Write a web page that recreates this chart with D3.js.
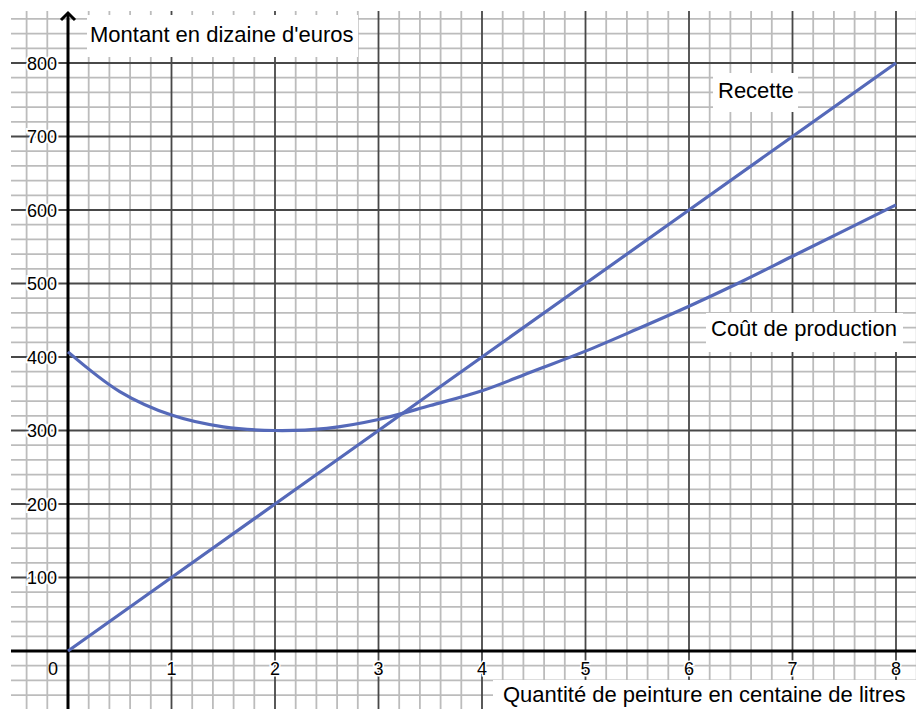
<!DOCTYPE html>
<html>
<head>
<meta charset="utf-8">
<script src="https://cdn.jsdelivr.net/npm/d3@7"></script>
<style>
  html, body { margin: 0; padding: 0; background: #fff; }
  svg { display: block; font-family: "Liberation Sans", Arial, sans-serif; }
</style>
</head>
<body>
<svg id="chart" width="916" height="709"></svg>
<script>
// ---- Data ----
const quantites = [0, 1, 2, 3, 4, 5, 6, 7, 8];
const recette = [0, 100, 200, 300, 400, 500, 600, 700, 800];
const coutX = [0, 0.5, 1, 1.5, 2, 2.5, 3, 3.5, 4, 4.5, 5, 5.5, 6, 6.5, 7, 7.5, 8];
const coutY = [407, 353, 321, 305, 300, 303, 315, 334, 354, 381, 408, 438, 469, 502, 537, 572, 607];
const xTickLabels = ["1", "2", "3", "4", "5", "6", "7", "8"];
const yTickLabels = ["100", "200", "300", "400", "500", "600", "700", "800"];
const yTitle = "Montant en dizaine d'euros";
const xTitle = "Quantité de peinture en centaine de litres";
const recetteLabel = "Recette";
const coutLabel = "Coût de production";

// ---- Layout ----
const W = 916, H = 709;
const svg = d3.select("#chart");
const x = d3.scaleLinear().domain([0, 8]).range([68, 896]);
const y = d3.scaleLinear().domain([0, 800]).range([651, 63]);
const clipL = 11, clipT = 11;

svg.append("defs").append("clipPath").attr("id", "gridclip")
  .append("rect").attr("x", clipL).attr("y", clipT).attr("width", W - clipL).attr("height", H - clipT);

const grid = svg.append("g").attr("clip-path", "url(#gridclip)");

// minor grid
const xMinor = d3.range(-0.6, 8.41, 0.2).map(v => +v.toFixed(2)).filter(v => Math.abs(v - Math.round(v)) > 1e-6);
const yMinor = d3.range(-100, 901, 20).filter(v => v % 100 !== 0);
grid.selectAll(".vmin").data(xMinor).join("line")
  .attr("x1", d => x(d)).attr("x2", d => x(d)).attr("y1", 0).attr("y2", H)
  .attr("stroke", "#bcbcbc").attr("stroke-width", 1.8);
grid.selectAll(".hmin").data(yMinor).join("line")
  .attr("x1", 0).attr("x2", W).attr("y1", d => y(d)).attr("y2", d => y(d))
  .attr("stroke", "#bcbcbc").attr("stroke-width", 1.8);

// major grid
const xMajor = d3.range(1, 9);
const yMajor = d3.range(100, 801, 100);
grid.selectAll(".vmaj").data(xMajor).join("line")
  .attr("x1", d => x(d)).attr("x2", d => x(d)).attr("y1", 0).attr("y2", H)
  .attr("stroke", "#484848").attr("stroke-width", 1.8);
grid.selectAll(".hmaj").data(yMajor).join("line")
  .attr("x1", 0).attr("x2", W).attr("y1", d => y(d)).attr("y2", d => y(d))
  .attr("stroke", "#484848").attr("stroke-width", 1.8);

// axes
svg.append("line").attr("x1", clipL).attr("x2", W).attr("y1", y(0)).attr("y2", y(0))
  .attr("stroke", "#000").attr("stroke-width", 3);
svg.append("line").attr("x1", x(0)).attr("x2", x(0)).attr("y1", 13).attr("y2", H)
  .attr("stroke", "#000").attr("stroke-width", 3);
svg.append("path")
  .attr("d", `M${x(0) - 7},${20} L${x(0)},${13} L${x(0) + 7},${20}`)
  .attr("fill", "none").attr("stroke", "#000").attr("stroke-width", 3);

// tick labels with white halo
const tickFont = 18;
svg.selectAll(".ylab").data(yTickLabels).join("text")
  .attr("x", 57).attr("y", d => y(+d) + 6.5)
  .attr("text-anchor", "end").attr("font-size", tickFont)
  .attr("fill", "#000").attr("stroke", "#fff").attr("stroke-width", 4)
  .attr("paint-order", "stroke").text(d => d);
svg.selectAll(".xlab").data(xTickLabels).join("text")
  .attr("x", d => x(+d)).attr("y", 675)
  .attr("text-anchor", "middle").attr("font-size", tickFont)
  .attr("fill", "#000").attr("stroke", "#fff").attr("stroke-width", 3)
  .attr("paint-order", "stroke").text(d => d);
svg.append("text").attr("x", 53).attr("y", 675).attr("text-anchor", "middle")
  .attr("font-size", tickFont).attr("fill", "#000").text("0");

// curves
const lineColor = "#5569b9";
const lineGen = d3.line().x(d => x(d[0])).y(d => y(d[1]));
svg.append("path")
  .datum(quantites.map((q, i) => [q, recette[i]]))
  .attr("d", lineGen)
  .attr("fill", "none").attr("stroke", lineColor).attr("stroke-width", 3.2);
svg.append("path")
  .datum(coutX.map((q, i) => [q, coutY[i]]))
  .attr("d", lineGen.curve(d3.curveCatmullRom.alpha(0.5)))
  .attr("fill", "none").attr("stroke", lineColor).attr("stroke-width", 3.2);

// labels with white boxes
function boxLabel(txt, bx, by, bw, bh, tx, ty) {
  svg.append("rect").attr("x", bx).attr("y", by).attr("width", bw).attr("height", bh).attr("fill", "#fff");
  svg.append("text").attr("x", tx).attr("y", ty).attr("font-size", 22).attr("fill", "#000").text(txt);
}
boxLabel(yTitle, 87, 15, 271, 42, 90, 42);
boxLabel(recetteLabel, 713, 73, 85, 39, 718, 98);
boxLabel(coutLabel, 706, 313, 197, 39, 711, 336);
boxLabel(xTitle, 493, 680, 423, 29, 503, 702);
</script>
</body>
</html>
